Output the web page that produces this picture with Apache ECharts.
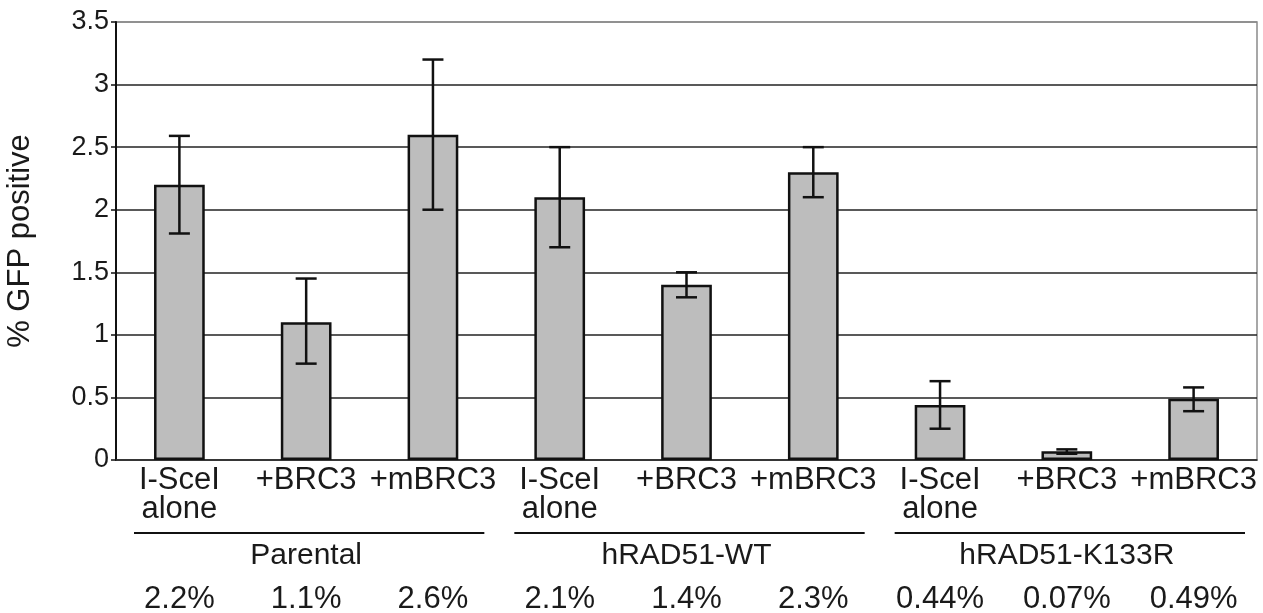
<!DOCTYPE html>
<html>
<head>
<meta charset="utf-8">
<script src="https://cdn.jsdelivr.net/npm/echarts@6/dist/echarts.min.js"></script>
<style>
html,body{margin:0;padding:0;background:#fff;}
#c{width:1263px;height:613px;}
</style>
</head>
<body>
<div id="c"></div>
<script>
var categories = ['I-SceI\nalone', '+BRC3', '+mBRC3', 'I-SceI\nalone', '+BRC3', '+mBRC3', 'I-SceI\nalone', '+BRC3', '+mBRC3'];
var values = [2.2, 1.1, 2.6, 2.1, 1.4, 2.3, 0.44, 0.07, 0.49];
var errLow = [1.81, 0.77, 2.0, 1.7, 1.3, 2.1, 0.25, 0.05, 0.39];
var errHigh = [2.59, 1.45, 3.2, 2.5, 1.5, 2.5, 0.63, 0.085, 0.58];
var percentLabels = ['2.2%', '1.1%', '2.6%', '2.1%', '1.4%', '2.3%', '0.44%', '0.07%', '0.49%'];
var groups = ['Parental', 'hRAD51-WT', 'hRAD51-K133R'];
var groupSize = 3;
var yTicks = [0, 0.5, 1, 1.5, 2, 2.5, 3, 3.5];
var yName = '% GFP positive';

var FONT = '"Liberation Sans", Arial, sans-serif';
var TXT = '#1a1a1a';

var chart = echarts.init(document.getElementById('c'), null, {renderer: 'canvas'});

var errData = values.map(function (v, i) { return [i, errLow[i], errHigh[i]]; });

var splitColors = yTicks.map(function (t, i) { return i === yTicks.length - 1 ? '#8a8a8a' : '#222'; });

var option = {
  animation: false,
  backgroundColor: '#fff',
  grid: {left: 116, right: 6, top: 22, bottom: 153, containLabel: false, outerBoundsMode: 'none',
    show: true, borderColor: '#8a8a8a', borderWidth: 1.5, backgroundColor: 'transparent'},
  xAxis: [
    {
      type: 'category', data: categories, position: 'bottom',
      axisLine: {show: true, lineStyle: {color: '#333', width: 1.5}},
      axisTick: {show: false},
      axisLabel: {interval: 0, color: TXT, fontFamily: FONT, fontSize: 31, lineHeight: 29, margin: 6}
    },
    {
      type: 'category', data: percentLabels, position: 'bottom', offset: 118, gridIndex: 0,
      axisLine: {show: false}, axisTick: {show: false},
      axisLabel: {interval: 0, color: TXT, fontFamily: FONT, fontSize: 31, margin: 6}
    },
    {
      type: 'category', data: groups, position: 'bottom', offset: 75, gridIndex: 0,
      axisLine: {show: false}, axisTick: {show: false},
      axisLabel: {interval: 0, color: TXT, fontFamily: FONT, fontSize: 30, margin: 6}
    }
  ],
  yAxis: {
    type: 'value', min: 0, max: 3.5, interval: 0.5,
    name: yName, nameLocation: 'middle', nameRotate: 90, nameGap: 80,
    nameTextStyle: {color: TXT, fontFamily: FONT, fontSize: 31},
    axisLine: {show: true, lineStyle: {color: '#111', width: 2}},
    axisTick: {show: true, length: 5, lineStyle: {color: '#111', width: 1.5}},
    axisLabel: {color: TXT, fontFamily: FONT, fontSize: 27, margin: 7,
      formatter: function (v) { return String(v); }},
    splitLine: {show: true, lineStyle: {color: splitColors, width: 1.5}}
  },
  series: [
    {
      type: 'bar', data: values, barWidth: '40%', xAxisIndex: 0,
      itemStyle: {color: '#bdbdbd', borderColor: '#111', borderWidth: 2.5},
      z: 2
    },
    {
      type: 'custom', data: errData, xAxisIndex: 0, z: 3,
      encode: {x: 0, y: [1, 2]},
      renderItem: function (params, api) {
        var idx = api.value(0);
        var lo = api.coord([idx, api.value(1)]);
        var hi = api.coord([idx, api.value(2)]);
        var hw = 10.5;
        var style = {stroke: '#111', lineWidth: 2.5};
        return {
          type: 'group',
          children: [
            {type: 'line', shape: {x1: lo[0], y1: lo[1], x2: hi[0], y2: hi[1]}, style: style},
            {type: 'line', shape: {x1: lo[0] - hw, y1: lo[1], x2: lo[0] + hw, y2: lo[1]}, style: style},
            {type: 'line', shape: {x1: hi[0] - hw, y1: hi[1], x2: hi[0] + hw, y2: hi[1]}, style: style}
          ]
        };
      }
    }
  ]
};
chart.setOption(option);

// group underline rules, positioned from the category axis scale
var c0 = chart.convertToPixel({xAxisIndex: 0}, 0);
var c1 = chart.convertToPixel({xAxisIndex: 0}, 1);
var band = c1 - c0;
var baseY = chart.convertToPixel({yAxisIndex: 0}, 0);
var lineY = baseY + 73;
var graphics = groups.map(function (g, gi) {
  var first = chart.convertToPixel({xAxisIndex: 0}, gi * groupSize);
  var last = chart.convertToPixel({xAxisIndex: 0}, gi * groupSize + groupSize - 1);
  var left = first - band / 2 + 18;
  var right = last + band / 2 - 12;
  return {type: 'line', shape: {x1: left, y1: lineY, x2: right, y2: lineY}, style: {stroke: '#111', lineWidth: 2}};
});
chart.setOption({graphic: graphics});
</script>
</body>
</html>
